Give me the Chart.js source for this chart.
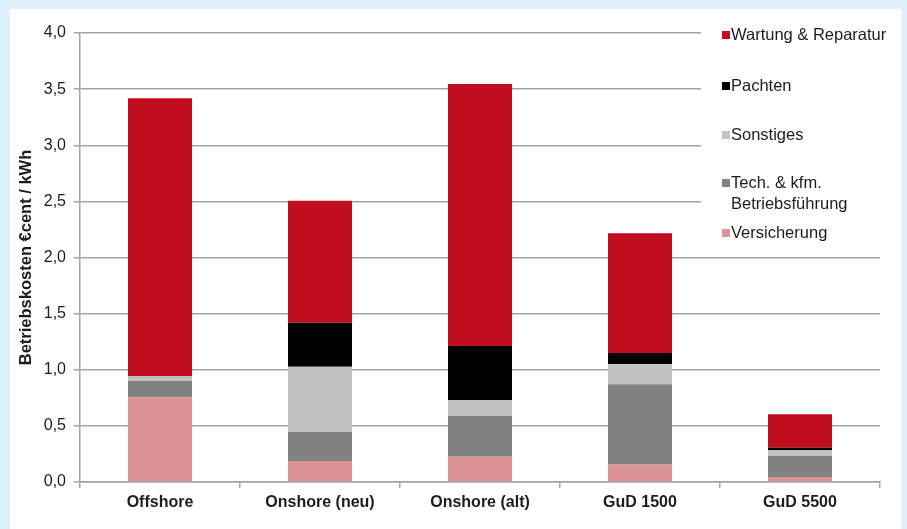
<!DOCTYPE html>
<html lang="de">
<head>
<meta charset="utf-8">
<title>Betriebskosten</title>
<script src="https://cdn.jsdelivr.net/npm/chart.js@4/dist/chart.umd.min.js"></script>
<style>
  html, body { margin: 0; padding: 0; }
  body { width: 907px; height: 529px; background: #def0f9; position: relative; overflow: hidden; }
  #panel { position: absolute; left: 10px; top: 9px; width: 891px; height: 520px; background: #ffffff; }
  #chart { position: absolute; left: 0; top: 0; }
</style>
</head>
<body>
<div id="panel"></div>
<canvas id="chart" width="907" height="529"></canvas>
<script>
// Kategorien (Anlagentypen)
const categories = ['Offshore', 'Onshore (neu)', 'Onshore (alt)', 'GuD 1500', 'GuD 5500'];

// Betriebskosten in €cent / kWh je Kostenart
const versicherung = [0.755, 0.187, 0.225, 0.157, 0.045];
const betriebsfuehrung = [0.147, 0.258, 0.366, 0.713, 0.187];
const sonstiges = [0.042, 0.582, 0.139, 0.178, 0.053];
const pachten = [0.000, 0.392, 0.482, 0.101, 0.021];
const wartung = [2.474, 1.087, 2.334, 1.068, 0.297];

// Beschriftung der y-Achse
const yTickLabels = ['0,0', '0,5', '1,0', '1,5', '2,0', '2,5', '3,0', '3,5', '4,0'];
const yTitle = 'Betriebskosten €cent / kWh';

const FONT = "'Liberation Sans', Arial, Helvetica, sans-serif";
const GRID = '#a3a3a3';
const TEXT = '#1c1c1c';

// Legende rechts oben: weißer Kasten, Einträge von oben nach unten (umgekehrte Stapelreihenfolge)
const sideLegend = {
  id: 'sideLegend',
  afterDraw(chart) {
    const ctx = chart.ctx;
    ctx.save();
    ctx.fillStyle = '#ffffff';
    ctx.fillRect(701, 16, 197, 234);
    const rows = [35, 86, 135, 183, 233];
    const items = chart.data.datasets.slice().reverse();
    ctx.font = '16.5px ' + FONT;
    ctx.textBaseline = 'middle';
    ctx.textAlign = 'left';
    items.forEach((ds, i) => {
      const y = rows[i];
      ctx.fillStyle = ds.backgroundColor;
      ctx.fillRect(722, y - 4, 8, 8);
      ctx.fillStyle = TEXT;
      const lines = ds.label.split('\n');
      lines.forEach((ln, k) => ctx.fillText(ln, 731, y + k * 21));
    });
    ctx.restore();
  }
};

new Chart(document.getElementById('chart'), {
  type: 'bar',
  data: {
    labels: categories,
    datasets: [
      { label: 'Versicherung', data: versicherung, backgroundColor: '#db9396' },
      { label: 'Tech. & kfm.\nBetriebsführung', data: betriebsfuehrung, backgroundColor: '#828282' },
      { label: 'Sonstiges', data: sonstiges, backgroundColor: '#c2c2c2' },
      { label: 'Pachten', data: pachten, backgroundColor: '#000000' },
      { label: 'Wartung & Reparatur', data: wartung, backgroundColor: '#c10d1d' }
    ]
  },
  options: {
    responsive: false,
    animation: false,
    devicePixelRatio: 1,
    layout: { padding: { left: 13, right: 27, top: 33, bottom: 0 } },
    datasets: { bar: { barPercentage: 0.4, categoryPercentage: 1.0, borderWidth: 0 } },
    plugins: {
      legend: { display: false },
      tooltip: { enabled: false }
    },
    scales: {
      x: {
        stacked: true,
        offset: true,
        afterFit(scale) { scale.height = 47; },
        grid: {
          display: true, offset: true, drawOnChartArea: false, drawTicks: true,
          tickLength: 6, color: GRID, lineWidth: 1.5
        },
        border: { display: true, color: GRID, width: 1.5 },
        ticks: {
          padding: 5, color: TEXT,
          font: { family: FONT, size: 16, weight: 'bold' },
          maxRotation: 0, autoSkip: false
        }
      },
      y: {
        stacked: true,
        min: 0, max: 4,
        afterFit(scale) { scale.width = 67; },
        grid: { color: GRID, lineWidth: 1.5, tickLength: 6, drawTicks: true },
        border: { display: true, color: GRID, width: 1.5 },
        ticks: {
          stepSize: 0.5, padding: 8, color: TEXT,
          font: { family: FONT, size: 16 },
          callback(value) { return yTickLabels[Math.round(value / 0.5)]; }
        },
        title: {
          display: true, text: yTitle, color: TEXT,
          font: { family: FONT, size: 16.5, weight: 'bold' },
          padding: { top: 4, bottom: 0 }
        }
      }
    }
  },
  plugins: [sideLegend]
});
</script>
</body>
</html>
